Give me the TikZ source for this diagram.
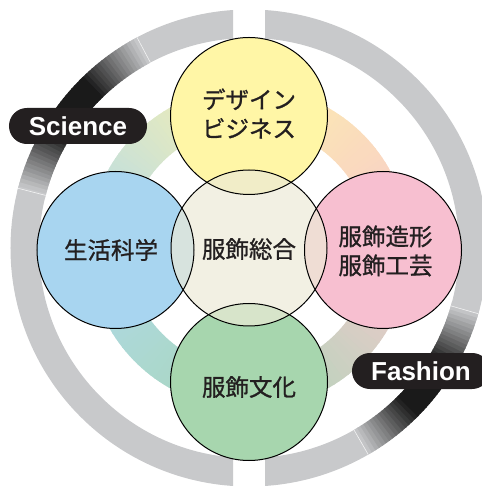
\documentclass[tikz,border=0pt]{standalone}
\usepackage{fontspec}
\newfontfamily\jpfont{Noto Sans CJK JP}[FakeBold=1]
\newfontfamily\lblfont{Liberation Sans}
\definecolor{ringgray}{RGB}{200,201,203}
\definecolor{ringdark}{RGB}{26,26,26}
\definecolor{boxblack}{RGB}{35,31,32}
\definecolor{cYellow}{RGB}{255,246,166}
\definecolor{cBlue}{RGB}{168,213,240}
\definecolor{cPink}{RGB}{247,191,208}
\definecolor{cGreen}{RGB}{167,214,174}
\definecolor{cCenter}{RGB}{236,234,215}
\definecolor{bY}{RGB}{252,240,172}
\definecolor{bP}{RGB}{248,200,205}
\definecolor{bG}{RGB}{168,214,184}
\definecolor{bB}{RGB}{176,218,236}
\definecolor{txt}{RGB}{35,31,32}
\tikzset{
  jptext/.style={font=\jpfont\fontsize{23.5}{29}\selectfont, text=txt, align=center, inner sep=0pt},
  lblbox/.style={fill=boxblack, text=white, rounded corners=17.9pt, minimum width=138pt,
    minimum height=36pt, inner sep=0pt, font=\lblfont\bfseries\fontsize{26}{30}\selectfont},
  outline/.style={draw=black, line width=1pt},
  seam/.style={draw=white, line width=0.6pt, opacity=0.8}
}
\begin{document}
\begin{tikzpicture}[x=1pt,y=1pt]
\useasboundingbox (-249,-238) rectangle (232,248);
% inner colour band
\foreach \sa/\ca/\cb in {0/bP/bY, 90/bY/bB, 180/bB/bG, 270/bG/bP}{
  \foreach \i in {0,...,44}{
    \pgfmathsetmacro{\aa}{\sa+2*\i}
    \pgfmathsetmacro{\bb}{\sa+2*\i+2.3}
    \pgfmathtruncatemacro{\p}{100-(2*\i+1)*100/90}
    \fill[\ca!\p!\cb] (\aa:122pt) arc[start angle=\aa,end angle=\bb,radius=122pt]
      -- (\bb:161pt) arc[start angle=\bb,end angle=\aa,radius=161pt] -- cycle;
  }
}
% left half of outer ring
\begin{scope}
  \clip (-260,-260) rectangle (-16,260);
  \fill[ringgray,even odd rule] (0,0) circle[radius=238.5pt] (0,0) circle[radius=210pt];
  \foreach \i in {0,...,47}{
    \pgfmathsetmacro{\aa}{118+\i}
    \pgfmathsetmacro{\bb}{119.3+\i}
    \pgfmathsetmacro{\t}{max(0,1-abs(\aa+0.5-141.75)/23.5)}
    \pgfmathtruncatemacro{\p}{min(100,145*\t)}
    \fill[ringdark!\p!ringgray] (\aa:210pt) arc[start angle=\aa,end angle=\bb,radius=210pt]
      -- (\bb:238.5pt) arc[start angle=\bb,end angle=\aa,radius=238.5pt] -- cycle;
  }
  \draw[seam] (118:210pt) -- (118:238.5pt);
  \draw[seam] (165.5:210pt) -- (165.5:238.5pt);
\end{scope}
% right half of outer ring
\begin{scope}
  \clip (16,-260) rectangle (260,260);
  \fill[ringgray,even odd rule] (0,0) circle[radius=238.5pt] (0,0) circle[radius=210pt];
  \foreach \i in {0,...,44}{
    \pgfmathsetmacro{\aa}{-60+\i}
    \pgfmathsetmacro{\bb}{-58.7+\i}
    \pgfmathsetmacro{\t}{max(0,1-abs(\aa+0.5+38)/22)}
    \pgfmathtruncatemacro{\p}{min(100,145*\t)}
    \fill[ringdark!\p!ringgray] (\aa:210pt) arc[start angle=\aa,end angle=\bb,radius=210pt]
      -- (\bb:238.5pt) arc[start angle=\bb,end angle=\aa,radius=238.5pt] -- cycle;
  }
  \draw[seam] (-16:210pt) -- (-16:238.5pt);
  \draw[seam] (-60:210pt) -- (-60:238.5pt);
\end{scope}
% circles
\fill[cYellow] (0,132) circle[radius=78.5pt];
\fill[cBlue] (-133.5,-2) circle[radius=78.5pt];
\fill[cPink] (134,-2) circle[radius=78.5pt];
\fill[cGreen] (0,-134) circle[radius=78.5pt];
\fill[cCenter, fill opacity=0.7] (0,0) circle[radius=78pt];
\draw[outline] (0,0) circle[radius=78pt];
\draw[outline] (0,132) circle[radius=78.5pt];
\draw[outline] (-133.5,-2) circle[radius=78.5pt];
\draw[outline] (134,-2) circle[radius=78.5pt];
\draw[outline] (0,-134) circle[radius=78.5pt];
% texts
\node[jptext] (design) at (0,134.5) {デザイン\\ビジネス};
\node[jptext] (life) at (-138,-2) {生活科学};
\node[jptext] (general) at (0,-1) {服飾総合};
\node[jptext] (craft) at (136.5,-3) {服飾造形\\服飾工芸};
\node[jptext] (culture) at (0,-139) {服飾文化};
% labels
\node[lblbox] (science) at (-171,122) {Science};
\node[lblbox] (fashion) at (172,-123) {Fashion};
\end{tikzpicture}
\end{document}
